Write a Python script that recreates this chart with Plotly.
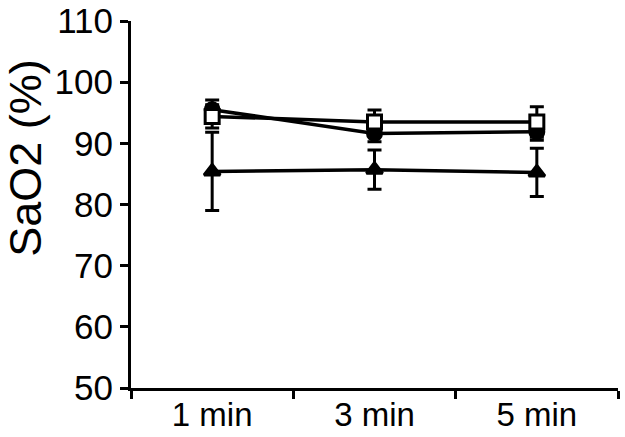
import plotly.graph_objects as go

categories = ["1 min", "3 min", "5 min"]
circle_vals = [95.5, 91.6, 91.9]
circle_err = [1.6, 1.35, 1.4]
square_vals = [94.4, 93.5, 93.5]
square_err = [1.9, 1.95, 2.5]
triangle_vals = [85.4, 85.7, 85.25]
triangle_err = [6.4, 3.2, 3.95]
y_ticks = [50, 60, 70, 80, 90, 100, 110]
y_title = "SaO2 (%)"

FONT = "Liberation Sans, Arial, Helvetica, sans-serif"

def series(vals, errs, symbol, fill):
    return go.Scatter(
        x=categories, y=vals, mode="lines+markers",
        line=dict(color="black", width=3.5),
        marker=dict(symbol=symbol, size=14, color=fill,
                    line=dict(color="black", width=3)),
        error_y=dict(type="data", array=errs, visible=True,
                     color="black", thickness=3, width=7),
        showlegend=False, cliponaxis=False,
    )

fig = go.Figure()
fig.add_trace(series(circle_vals, circle_err, "circle", "black"))
fig.add_trace(series(square_vals, square_err, "square", "white"))
fig.add_trace(series(triangle_vals, triangle_err, "triangle-up", "black"))

fig.update_layout(
    width=625, height=437,
    margin=dict(l=131, r=7, t=21, b=49),
    paper_bgcolor="white", plot_bgcolor="white",
    font=dict(family=FONT, color="black"),
    xaxis=dict(
        type="category", range=[-0.5, 2.5], tickson="boundaries",
        showline=True, linecolor="black", linewidth=3,
        ticks="outside", ticklen=8, tickwidth=3, tickcolor="black",
        showgrid=False, zeroline=False, automargin=False,
        ticklabelstandoff=-5,
        tickfont=dict(size=33, family=FONT),
    ),
    yaxis=dict(
        range=[50, 110], tickvals=y_ticks,
        showline=True, linecolor="black", linewidth=3,
        ticks="outside", ticklen=8, tickwidth=3, tickcolor="black",
        showgrid=False, zeroline=False, automargin=False,
        tickfont=dict(size=35, family=FONT),
    ),
    annotations=[dict(
        text=y_title, textangle=-90, showarrow=False,
        xref="paper", yref="paper", x=-0.216, y=0.627,
        xanchor="center", yanchor="middle",
        font=dict(size=45, family=FONT, color="black"),
    )],
)

fig.write_html("out.html", config={"displayModeBar": False},
               post_script="document.body.style.margin='0';document.body.style.overflow='hidden';")
